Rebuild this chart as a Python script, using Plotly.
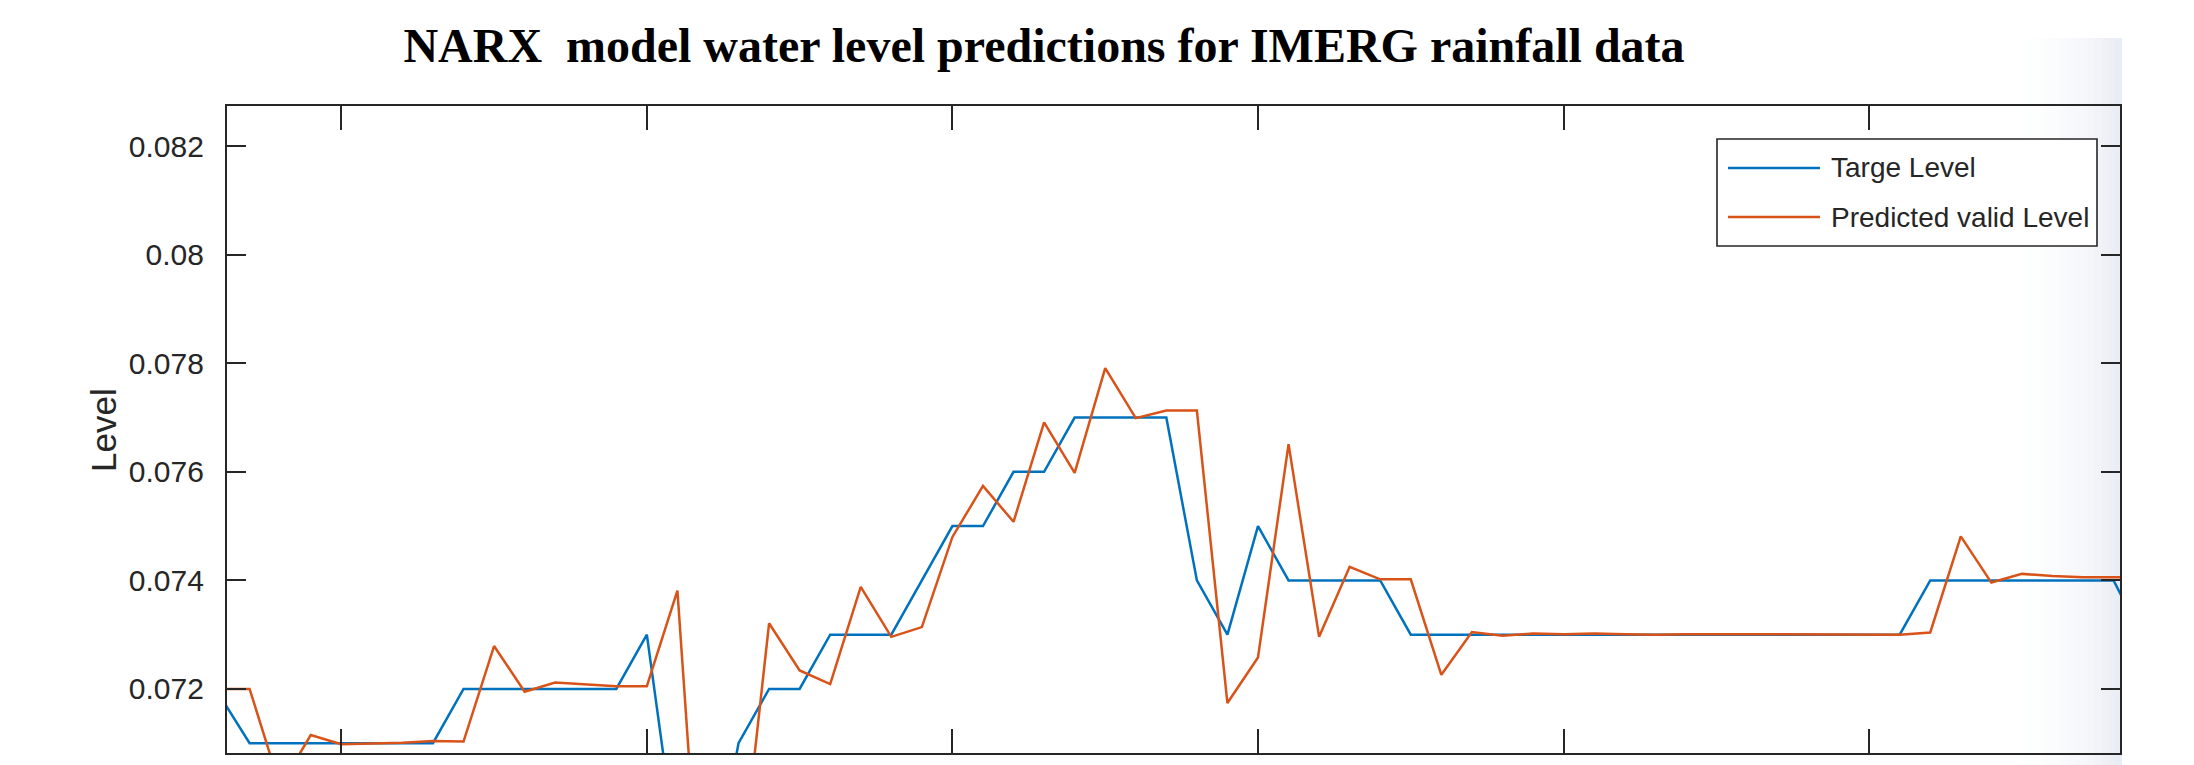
import plotly.graph_objects as go

# ---------------- data ----------------
sample_index = list(range(1, 65))

target_level = [
    0.0719, 0.0710, 0.0710, 0.0710, 0.0710, 0.0710, 0.0710, 0.0710,
    0.0720, 0.0720, 0.0720, 0.0720, 0.0720, 0.0720, 0.0730, 0.0689,
    0.0680, 0.0710, 0.0720, 0.0720, 0.0730, 0.0730, 0.0730, 0.0740,
    0.0750, 0.0750, 0.0760, 0.0760, 0.0770, 0.0770, 0.0770, 0.0770,
    0.0740, 0.0730, 0.0750, 0.0740, 0.0740, 0.0740, 0.0740, 0.0730,
    0.0730, 0.0730, 0.0730,
    0.0730, 0.0730, 0.0730, 0.0730, 0.0730, 0.0730, 0.0730, 0.0730,
    0.0730, 0.0730, 0.0730, 0.0730, 0.0730,
    0.0740, 0.0740, 0.0740, 0.0740, 0.0740, 0.0740, 0.0740, 0.0729,
]

predicted_level = [
    0.0720, 0.0720, 0.0702, 0.07115, 0.07098, 0.07099, 0.07101, 0.07104,
    0.07103, 0.07279, 0.07195, 0.07212, 0.07208, 0.07205, 0.07205, 0.07381,
    0.0657, 0.0681, 0.07321, 0.07234, 0.07209, 0.07388, 0.07296, 0.07314,
    0.07480, 0.07574, 0.07508, 0.07691, 0.07598, 0.07791, 0.07699, 0.07713,
    0.07713, 0.07174, 0.07258, 0.07651, 0.07296, 0.07425, 0.07402, 0.07402,
    0.07226, 0.07305, 0.07298,
    0.07302, 0.07301, 0.07302, 0.07301, 0.07300, 0.07301, 0.07301, 0.07300,
    0.07301, 0.07300, 0.07300, 0.07300, 0.07300,
    0.07304, 0.07481, 0.07396, 0.07412, 0.07408, 0.07406, 0.07406, 0.07405,
]

y_tick_values = [0.072, 0.074, 0.076, 0.078, 0.080, 0.082]
y_tick_labels = ["0.072", "0.074", "0.076", "0.078", "0.08", "0.082"]
x_tick_values = [5, 15, 25, 35, 45, 55]

series_names = ["Targe Level", "Predicted valid Level"]
series_colors = ["#0072BD", "#D95319"]

title_text = "NARX\u00a0 model water level predictions for IMERG rainfall data"
y_title_text = "Level"

# ---------------- layout geometry (screen pixels) ----------------
OFF = 8                      # default page margin of the html body
W, H = 2194 - OFF, 765 - OFF  # figure size so that it ends at the window edge
PL, PR, PT, PB = 227, 2120, 106, 753   # plot area in screen pixels


def px_x(px):
    return (px - PL) / (PR - PL)


def px_y(py):
    return (PB - py) / (PB - PT)


AX = "#262626"

fig = go.Figure()
fig.add_trace(go.Scatter(x=sample_index, y=target_level, mode="lines",
                         name=series_names[0],
                         line=dict(color=series_colors[0], width=2.5),
                         showlegend=False))
fig.add_trace(go.Scatter(x=sample_index, y=predicted_level, mode="lines",
                         name=series_names[1],
                         line=dict(color=series_colors[1], width=2.5),
                         showlegend=False))

shapes = []
# faint gradient band at the right edge of the picture
n = 14
x_start, x_end = 2025, 2122
for i in range(n):
    a0 = x_start + (x_end - x_start) * i / n
    a1 = x_start + (x_end - x_start) * (i + 1) / n
    shapes.append(dict(type="rect", xref="paper", yref="paper",
                       x0=px_x(a0), x1=px_x(a1), y0=px_y(765), y1=px_y(38),
                       line=dict(width=0),
                       fillcolor="rgba(205,214,232,%.3f)" % (0.03 + 0.4 * (i / (n - 1)) ** 1.7),
                       layer="below"))

# legend box (MATLAB style)
LX0, LX1, LY0, LY1 = 1717, 2097, 139, 246
shapes.append(dict(type="rect", xref="paper", yref="paper",
                   x0=px_x(LX0), x1=px_x(LX1), y0=px_y(LY1), y1=px_y(LY0),
                   line=dict(color=AX, width=1.6), fillcolor="white", layer="above"))
rows_y = [168, 217]
for yy, col in zip(rows_y, series_colors):
    shapes.append(dict(type="line", xref="paper", yref="paper",
                       x0=px_x(1728), x1=px_x(1820), y0=px_y(yy), y1=px_y(yy),
                       line=dict(color=col, width=2.5), layer="above"))

annotations = []
for yy, name in zip(rows_y, series_names):
    annotations.append(dict(text=name, xref="paper", yref="paper",
                            x=px_x(1829), y=px_y(yy), xanchor="left", yanchor="middle",
                            showarrow=False,
                            font=dict(family="Liberation Sans, Arial, sans-serif",
                                      size=28, color=AX)))
# y-axis title
annotations.append(dict(text=y_title_text, xref="paper", yref="paper",
                        x=px_x(103), y=px_y(430), xanchor="center", yanchor="middle",
                        textangle=-90, showarrow=False,
                        font=dict(family="Liberation Sans, Arial, sans-serif",
                                  size=35, color=AX)))

fig.update_layout(
    width=W, height=H,
    margin=dict(l=PL - OFF, r=W - (PR - OFF), t=PT - OFF, b=H - (PB - OFF), pad=0,
                autoexpand=False),
    paper_bgcolor="white", plot_bgcolor="white",
    showlegend=False,
    title=dict(text="<b>" + title_text + "</b>", xref="paper", x=px_x(1044),
               xanchor="center", yref="container", y=1 - (45 - OFF) / H, yanchor="middle",
               font=dict(family="Liberation Serif, Times New Roman, serif",
                         size=48, color="black")),
    shapes=shapes,
    annotations=annotations,
)

fig.update_xaxes(range=[1.26, 63.21], tickvals=x_tick_values, showticklabels=False,
                 ticks="inside", ticklen=24, tickwidth=2, tickcolor=AX,
                 showline=True, linecolor=AX, linewidth=2.2, mirror="ticks",
                 showgrid=False, zeroline=False)
fig.update_yaxes(range=[0.07082, 0.08274], tickvals=y_tick_values, ticktext=y_tick_labels,
                 ticks="inside", ticklen=19, tickwidth=2, tickcolor=AX,
                 showline=True, linecolor=AX, linewidth=2.2, mirror="ticks",
                 showgrid=False, zeroline=False, ticklabelstandoff=15,
                 tickfont=dict(family="Liberation Sans, Arial, sans-serif", size=30, color=AX))

fig.write_html("out.html")
